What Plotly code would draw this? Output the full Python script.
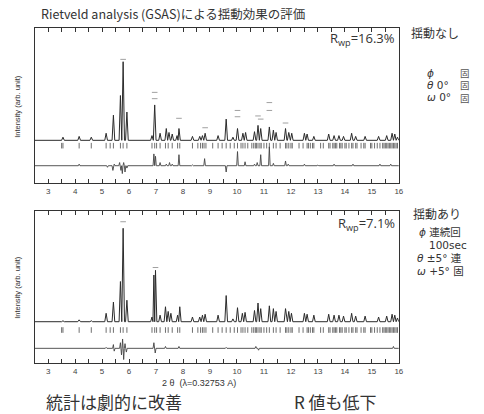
import plotly.graph_objects as go

# ---------------- data ----------------
# reflection positions (2theta, deg) - tick row, same phase for both panels
refl_pos = [3.50, 3.55, 4.15, 4.60, 5.15, 5.30, 5.42, 5.68, 5.78, 5.92,
            6.85, 6.95, 7.02, 7.15, 7.35, 7.45, 7.60, 7.80, 7.88,
            8.35, 8.55, 8.65, 8.72, 8.78, 8.85, 9.10, 9.30, 9.45, 9.60, 9.75, 9.90,
            10.02, 10.15, 10.22, 10.30, 10.40, 10.55, 10.62, 10.68, 10.72, 10.78, 10.85, 10.90,
            11.00, 11.10, 11.20, 11.35, 11.45, 11.60, 11.80, 11.85, 11.92, 12.00, 12.05,
            12.30, 12.45, 12.60, 12.65, 12.72, 12.80, 12.85, 13.10, 13.20, 13.40, 13.45,
            13.55, 13.60, 13.65, 13.70, 13.80, 13.85, 13.90, 14.00, 14.05, 14.15, 14.25,
            14.30, 14.40, 14.45, 14.60, 14.70, 14.75, 14.95, 15.00, 15.10, 15.20, 15.30,
            15.40, 15.45, 15.50, 15.55, 15.60, 15.65, 15.70, 15.75, 15.80, 15.85, 15.90, 15.95]

# top panel (no oscillation): calculated peak positions / heights (main peak = 100)
top_calc_pos = [3.55, 4.15, 4.60, 5.15, 5.42, 5.68, 5.78, 5.92, 6.85, 6.95, 7.15, 7.38, 7.48,
                7.60, 7.78, 7.85, 8.35, 8.62, 8.72, 8.82, 9.30, 9.60, 9.85, 10.02, 10.22,
                10.32, 10.65, 10.78, 10.88, 11.20, 11.35, 11.45, 11.80, 11.92, 12.03, 12.50,
                12.60, 12.85, 13.40, 13.60, 13.78, 13.95, 14.25, 14.40, 14.75, 15.25, 15.55,
                15.75, 15.85, 15.95]
top_calc_int = [4, 5, 4, 9, 32, 57, 100, 36, 6, 45, 9, 15, 10,
                8, 6, 15, 5, 5, 6, 9, 6, 27, 4, 15, 9,
                10, 11, 19, 15, 17, 13, 10, 15, 10, 9, 9,
                8, 5, 8, 6, 6, 5, 9, 5, 5, 5, 6,
                9, 8, 4]
top_obs_pos = [5.78, 6.95, 6.95, 7.85, 8.82, 10.02, 10.02, 10.78, 10.88, 11.20, 11.20, 11.80]
top_obs_int = [103, 61, 53, 28, 16, 38, 30, 31, 27, 48, 38, 22]
top_diff_pos = [4.15, 5.20, 5.40, 5.45, 5.65, 5.70, 5.75, 5.80, 5.85, 5.92, 6.92, 6.98, 7.15,
                7.38, 7.50, 7.60, 7.85, 8.35, 8.80, 9.60, 10.02, 10.30, 10.65, 10.75, 10.88,
                11.20, 11.35, 11.80, 11.90, 12.50, 13.00, 13.60, 14.30, 15.30, 15.70]
top_diff_val = [2, -2, -6, 2, 4, -6, -10, 4, -8, -3, 15, 12, 4,
                2, 4, 2, 14, 1, 9, -8, 18, 5, 2, 4, 14,
                24, 3, 6, 2, 2, 1, 2, 2, 2, 2]

# bottom panel (with oscillation)
bot_calc_pos = [3.55, 4.15, 4.60, 5.15, 5.42, 5.68, 5.78, 5.92, 6.85, 6.92, 6.98, 7.15, 7.35,
                7.45, 7.55, 7.80, 7.88, 8.35, 8.62, 8.72, 8.82, 9.30, 9.60, 9.85, 10.02,
                10.20, 10.30, 10.65, 10.78, 10.88, 11.20, 11.35, 11.45, 11.80, 11.92, 12.02,
                12.50, 12.60, 12.85, 13.40, 13.60, 13.78, 13.95, 14.25, 14.40, 14.75, 15.25,
                15.55, 15.75, 15.85, 15.95]
bot_calc_int = [1, 2, 1, 9, 21, 43, 100, 23, 5, 50, 55, 7, 16,
                11, 9, 7, 16, 5, 5, 7, 8, 7, 28, 3, 15,
                9, 10, 12, 20, 14, 17, 14, 11, 14, 11, 9,
                9, 8, 7, 8, 7, 7, 6, 9, 6, 6, 5,
                6, 8, 7, 4]
bot_obs_pos = [5.78, 6.98]
bot_obs_int = [107, 58]
bot_diff_pos = [5.15, 5.42, 5.45, 5.68, 5.72, 5.76, 5.80, 5.85, 5.90, 6.92, 6.97, 7.35,
                7.85, 9.60, 10.70, 10.80, 15.80]
bot_diff_val = [1, 4, -3, 6, -7, 10, -12, 5, -4, 6, -5, 2,
                2, 1, 2, -2, 2]

x_tick_vals = list(range(3, 17))
x_tick_text = [str(v) for v in x_tick_vals]

# ---------------- layout constants (pixels -> paper) ----------------
W, H = 484, 414
X_RANGE = [2.5, 16.0]
top_px = (28, 183)
bot_px = (211, 363)
TOP = dict(yrange=[0, 197.2], base=54.3, ticks=47.5, diff=22.0)
BOT = dict(yrange=[0, 162.7], base=44.2, ticks=35.3, diff=15.7)


def py(p):
    return 1 - p / H


def px(p):
    return p / W


def profile(pos, vals, half, base):
    xs, ys = [X_RANGE[0]], [base]
    n = len(pos)
    for i, (p, v) in enumerate(zip(pos, vals)):
        lf = p - half
        rf = p + half
        if i > 0:
            lf = max(lf, (pos[i - 1] + p) / 2)
        if i < n - 1:
            rf = min(rf, (pos[i + 1] + p) / 2)
        xs += [lf, p, rf]
        ys += [base, base + v, base]
    xs.append(X_RANGE[1])
    ys.append(base)
    return xs, ys


fig = go.Figure()
LINE = "#2b2b2b"

for cfg, calc_pos, calc_int, obs_pos, obs_int, d_pos, d_val, ax in [
    (TOP, top_calc_pos, top_calc_int, top_obs_pos, top_obs_int, top_diff_pos, top_diff_val, ""),
    (BOT, bot_calc_pos, bot_calc_int, bot_obs_pos, bot_obs_int, bot_diff_pos, bot_diff_val, "2"),
]:
    xa, ya = "x" + ax, "y" + ax
    cx, cy = profile(calc_pos, calc_int, 0.05, cfg["base"])
    fig.add_trace(go.Scatter(x=cx, y=cy, mode="lines", line=dict(color=LINE, width=1),
                             xaxis=xa, yaxis=ya, showlegend=False, hoverinfo="skip"))
    fig.add_trace(go.Scatter(x=obs_pos, y=[cfg["base"] + v for v in obs_int], mode="markers",
                             marker=dict(symbol="line-ew", size=4, line=dict(color="#a0a0a0", width=1)),
                             xaxis=xa, yaxis=ya, showlegend=False, hoverinfo="skip"))
    fig.add_trace(go.Scatter(x=refl_pos, y=[cfg["ticks"]] * len(refl_pos), mode="markers",
                             marker=dict(symbol="line-ns", size=4, line=dict(color="#4a4a4a", width=0.8)),
                             xaxis=xa, yaxis=ya, showlegend=False, hoverinfo="skip"))
    dx, dy = profile(d_pos, d_val, 0.03, cfg["diff"])
    fig.add_trace(go.Scatter(x=dx, y=dy, mode="lines", line=dict(color="#444", width=0.9),
                             xaxis=xa, yaxis=ya, showlegend=False, hoverinfo="skip"))

xaxis_common = dict(range=X_RANGE, showgrid=False, zeroline=False, showline=True, linecolor="#333",
                    linewidth=1, mirror="ticks", ticks="inside", ticklen=4, tickwidth=1, tickcolor="#333",
                    tickvals=x_tick_vals, ticktext=x_tick_text,
                    tickfont=dict(family="Liberation Sans", size=8, color="#444"),
                    minor=dict(dtick=0.5, tick0=2.5, ticks="inside", ticklen=4, tickwidth=1, tickcolor="#333"),
                    domain=[px(35), px(403)])
yaxis_common = dict(showgrid=False, zeroline=False, showline=True, linecolor="#333", linewidth=1,
                    mirror=True, ticks="", showticklabels=False)

fig.update_layout(
    width=W, height=H, margin=dict(l=0, r=0, t=0, b=0),
    paper_bgcolor="white", plot_bgcolor="white",
    xaxis=dict(**xaxis_common, anchor="y"),
    xaxis2=dict(**xaxis_common, anchor="y2"),
    yaxis=dict(**yaxis_common, range=TOP["yrange"], domain=[py(top_px[1]), py(top_px[0])], anchor="x"),
    yaxis2=dict(**yaxis_common, range=BOT["yrange"], domain=[py(bot_px[1]), py(bot_px[0])], anchor="x2"),
)

JP = "Noto Sans CJK JP"
GR = "DejaVu Sans, Noto Sans CJK JP"
ann = []


def text(t, x, y, size, xanchor="left", family=JP, color="#333", angle=0):
    ann.append(dict(text=t, x=px(x), y=py(y), xref="paper", yref="paper", xanchor=xanchor,
                    yanchor="middle", showarrow=False, textangle=angle, borderpad=0,
                    font=dict(family=family, size=size, color=color)))


text("Rietveld analysis (GSAS)による揺動効果の評価", 40, 13, 12.5)
text("R<sub>wp</sub>=16.3%", 400, 39, 13, xanchor="right", family="Open Sans")
text("R<sub>wp</sub>=7.1%", 400, 224, 13, xanchor="right", family="Open Sans")
text("Intensity (arb. unit)", 17, 106, 7.5, xanchor="center", family="Liberation Sans", angle=-90)
text("Intensity (arb. unit)", 17, 287, 7.5, xanchor="center", family="Liberation Sans", angle=-90)

text("揺動なし", 414, 32, 12)
text("<i>ϕ</i>", 430, 73, 10.5, family=GR)
text("<i>θ</i> 0°", 430, 85, 10.5, family=GR)
text("<i>ω</i> 0°", 430, 97, 10.5, family=GR)
text("固<br>固<br>固", 464, 85, 9.5, color="#555")

text("揺動あり", 416, 214, 12)
text("<i>ϕ</i> 連続回", 422, 232, 10.5, family=GR)
text("100sec", 432, 245, 10.5, family=GR)
text("<i>θ</i> ±5° 連", 420, 258, 10.5, family=GR)
text("<i>ω</i> +5° 固", 420, 271, 10.5, family=GR)

text("2 θ  (λ=0.32753 A)", 163, 383, 9, family="Liberation Sans")
text("統計は劇的に改善", 45, 401, 17)
text("R 値も低下", 296, 401, 17)

fig.update_layout(annotations=ann)
fig.write_html("out.html", config={"displayModeBar": False},
               post_script="document.body.style.margin='0';")
